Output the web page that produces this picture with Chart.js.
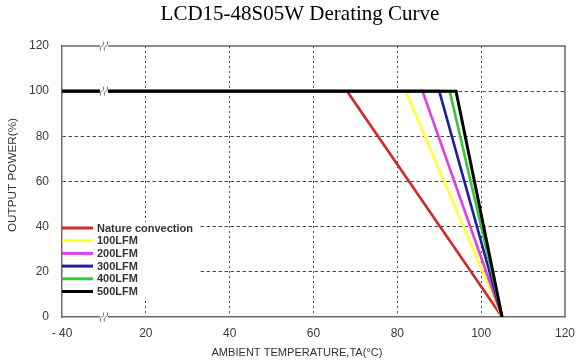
<!DOCTYPE html>
<html>
<head>
<meta charset="utf-8">
<script src="https://cdn.jsdelivr.net/npm/chart.js@4/dist/chart.umd.min.js"></script>
<style>
  html, body { margin: 0; padding: 0; background: #fff; }
  #wrap { width: 576px; height: 360px; }
</style>
</head>
<body>
<div id="wrap"><canvas id="derating" width="576" height="360"></canvas></div>
<script>
(function () {
  'use strict';

  // ── Data ────────────────────────────────────────────────────────────────
  var seriesNames = ['Nature convection', '100LFM', '200LFM', '300LFM', '400LFM', '500LFM'];
  var seriesColors = ['#d02a2a', '#ffff3a', '#e23fe2', '#1c1ca6', '#3ac83a', '#000000'];

  // temperature points (x) of each curve; -40 is plotted at position 0 (broken axis)
  var natureTemps = [0, 68, 105];
  var lfm100Temps = [0, 82, 105];
  var lfm200Temps = [0, 86, 105];
  var lfm300Temps = [0, 90, 105];
  var lfm400Temps = [0, 92.5, 105];
  var lfm500Temps = [0, 94, 105];
  var powerValues = [100, 100, 0];

  var xTickValues = [0, 20, 40, 60, 80, 100, 120];
  var xTickLabels = ['- 40', '20', '40', '60', '80', '100', '120'];
  var yTickValues = [0, 20, 40, 60, 80, 100, 120];

  var allTemps = [natureTemps, lfm100Temps, lfm200Temps, lfm300Temps, lfm400Temps, lfm500Temps];

  var datasets = allTemps.map(function (temps, i) {
    return {
      label: seriesNames[i],
      data: temps.map(function (t, j) { return { x: t, y: powerValues[j] }; }),
      borderColor: seriesColors[i],
      backgroundColor: seriesColors[i],
      borderWidth: i === 5 ? 3 : 2.6,
      pointRadius: 0,
      tension: 0,
      fill: false,
      order: seriesNames.length - 1 - i
    };
  });

  var GRID = '#4a4a4a';
  var FRAME = '#6a6a6a';
  var SANS = '"Liberation Sans", Arial, sans-serif';

  function fitText(ctx, text, cx, cy, width, rotate) {
    var w = ctx.measureText(text).width;
    ctx.save();
    ctx.translate(cx, cy);
    if (rotate) { ctx.rotate(-Math.PI / 2); }
    ctx.scale(width / w, 1);
    ctx.textAlign = 'center';
    ctx.textBaseline = 'middle';
    ctx.fillText(text, 0, 0);
    ctx.restore();
  }

  // ── Extras: frame, legend box, axis breaks, titles ──────────────────────
  var extras = {
    id: 'extras',
    beforeDatasetsDraw: function (chart) {
      var ctx = chart.ctx, a = chart.chartArea;
      var ys = chart.scales.y;
      ctx.save();
      // white box behind the legend hides the grid there
      ctx.fillStyle = '#ffffff';
      ctx.fillRect(a.left + 1, ys.getPixelForValue(42), 137, ys.getPixelForValue(8.5) - ys.getPixelForValue(42));
      // top and right frame
      ctx.strokeStyle = FRAME;
      ctx.lineWidth = 1.5;
      ctx.setLineDash([]);
      ctx.beginPath();
      ctx.moveTo(a.left, a.top);
      ctx.lineTo(a.right, a.top);
      ctx.lineTo(a.right, a.bottom);
      ctx.stroke();
      ctx.restore();
    },
    afterDatasetsDraw: function (chart) {
      var ctx = chart.ctx, a = chart.chartArea;
      var xs = chart.scales.x, ys = chart.scales.y;
      ctx.save();

      // axis break marks
      var bx = xs.getPixelForValue(10);
      [120, 100, 0].forEach(function (v) {
        var by = ys.getPixelForValue(v);
        ctx.fillStyle = '#ffffff';
        ctx.fillRect(bx - 4, by - 2.5, 8, 5);
        ctx.strokeStyle = '#777';
        ctx.lineWidth = 1;
        [-2, 2].forEach(function (off) {
          ctx.beginPath();
          ctx.moveTo(bx + off - 1.5, by + 4.5);
          ctx.quadraticCurveTo(bx + off - 2.5, by + 0.5, bx + off, by);
          ctx.quadraticCurveTo(bx + off + 2.5, by - 0.5, bx + off + 1.5, by - 4.5);
          ctx.stroke();
        });
      });

      // legend inside plot
      var lx = a.left;
      var ly = 228;
      ctx.font = 'bold 11px ' + SANS;
      ctx.textBaseline = 'middle';
      ctx.textAlign = 'left';
      seriesNames.forEach(function (name, i) {
        var y = ly + i * 12.7;
        ctx.strokeStyle = seriesColors[i];
        ctx.lineWidth = 3;
        ctx.beginPath();
        ctx.moveTo(lx, y);
        ctx.lineTo(lx + 31, y);
        ctx.stroke();
        ctx.fillStyle = '#333';
        ctx.fillText(name, lx + 35, y + 0.5);
      });

      // chart title and axis titles
      ctx.fillStyle = '#000';
      ctx.font = '21px "Liberation Serif", "Times New Roman", serif';
      ctx.textAlign = 'center';
      ctx.textBaseline = 'middle';
      ctx.fillText('LCD15-48S05W Derating Curve', 300, 14);

      ctx.fillStyle = '#333';
      ctx.font = '10px ' + SANS;
      fitText(ctx, 'AMBIENT TEMPERATURE,TA(\u00B0C)', 297, 353, 171, false);
      fitText(ctx, 'OUTPUT POWER(%)', 13, 175, 114, true);
      ctx.restore();
    }
  };

  new Chart(document.getElementById('derating'), {
    type: 'line',
    data: { datasets: datasets },
    plugins: [extras],
    options: {
      responsive: false,
      animation: false,
      devicePixelRatio: 1,
      layout: { padding: { top: 46, right: 11, left: 0, bottom: 0 } },
      plugins: {
        legend: { display: false },
        title: { display: false },
        tooltip: { enabled: false }
      },
      scales: {
        x: {
          type: 'linear',
          min: 0,
          max: 120,
          afterFit: function (s) { s.height = 43; s.paddingRight = 0; s.paddingLeft = 0; },
          afterBuildTicks: function (s) {
            s.ticks = xTickValues.map(function (v) { return { value: v }; });
          },
          ticks: {
            padding: 9,
            color: '#3a3a3a',
            font: { family: SANS, size: 12 },
            maxRotation: 0,
            callback: function (v) {
              var k = xTickValues.indexOf(v);
              return k >= 0 ? xTickLabels[k] : '';
            }
          },
          grid: {
            drawTicks: false,
            lineWidth: 1,
            color: function (c) {
              var v = c.tick ? c.tick.value : null;
              return (v === 0 || v === 120) ? 'rgba(0,0,0,0)' : GRID;
            }
          },
          border: { display: true, color: FRAME, width: 1.5, dash: [2, 3] }
        },
        y: {
          type: 'linear',
          min: 0,
          max: 120,
          afterFit: function (s) { s.width = 62; s.paddingTop = 0; s.paddingBottom = 0; },
          afterBuildTicks: function (s) {
            s.ticks = yTickValues.map(function (v) { return { value: v }; });
          },
          ticks: {
            padding: 13,
            color: '#3a3a3a',
            font: { family: SANS, size: 12 }
          },
          grid: {
            drawTicks: false,
            lineWidth: 1,
            color: function (c) {
              var v = c.tick ? c.tick.value : null;
              return (v === 0 || v === 120) ? 'rgba(0,0,0,0)' : GRID;
            }
          },
          border: { display: true, color: FRAME, width: 1.5, dash: [3.5, 2.5] }
        }
      }
    }
  });
}());
</script>
</body>
</html>
